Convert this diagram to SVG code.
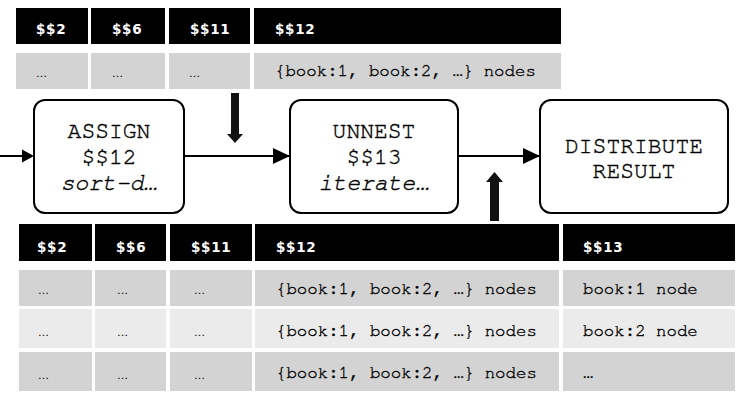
<svg xmlns="http://www.w3.org/2000/svg" width="747" height="403" viewBox="0 0 747 403">
<style>
.hd{fill:#000}
.c1{fill:#d3d3d3}
.c2{fill:#ebebeb}
.ht{font-family:"DejaVu Sans",Verdana,sans-serif;font-weight:bold;font-size:13.5px;fill:#fff;letter-spacing:0.7px}
.el{font-family:"DejaVu Sans",sans-serif;font-size:11px;fill:#000}
.mt{font-family:"Nimbus Mono PS","FreeMono","Courier New","Liberation Mono",monospace;font-size:17.4px;fill:#000;stroke:#000;stroke-width:0.35}
.box{fill:#fff;stroke:#000;stroke-width:2}
.nt{font-family:"Nimbus Mono PS","FreeMono","Courier New","Liberation Mono",monospace;font-size:23px;fill:#000;stroke:#000;stroke-width:0.4;text-anchor:middle}
.it{font-style:italic}
.ln{stroke:#000;stroke-width:2;fill:none}
.big{fill:#111}
</style>
<defs>
<marker id="ah" markerWidth="17" markerHeight="16" refX="17" refY="8" orient="auto" markerUnits="userSpaceOnUse">
<path d="M0,0 L17,8 L0,16 Z" fill="#000"/>
</marker>
</defs>

<g id="top-table">
<rect class="hd" x="16" y="8" width="72" height="36"/>
<rect class="hd" x="91" y="8" width="74" height="36"/>
<rect class="hd" x="169" y="8" width="81" height="36"/>
<rect class="hd" x="254" y="8" width="307" height="36"/>
<text class="ht" x="36" y="34">$$2</text>
<text class="ht" x="112" y="34">$$6</text>
<text class="ht" x="190" y="34">$$11</text>
<text class="ht" x="275" y="34">$$12</text>
<rect class="c1" x="16" y="53" width="72" height="36"/>
<rect class="c1" x="91" y="53" width="74" height="36"/>
<rect class="c1" x="169" y="53" width="81" height="36"/>
<rect class="c1" x="254" y="53" width="307" height="36"/>
<text class="el" x="36" y="77">…</text>
<text class="el" x="112" y="77">…</text>
<text class="el" x="189" y="77">…</text>
<text class="mt" x="275" y="76">{book:1, book:2, …} nodes</text>
</g>

<g id="bottom-table">
<rect class="hd" x="19" y="224" width="73" height="37"/>
<rect class="hd" x="95" y="224" width="71" height="37"/>
<rect class="hd" x="170" y="224" width="82" height="37"/>
<rect class="hd" x="255" y="224" width="304" height="37"/>
<rect class="hd" x="563" y="224" width="172" height="37"/>
<text class="ht" x="37" y="252">$$2</text>
<text class="ht" x="116" y="252">$$6</text>
<text class="ht" x="191" y="252">$$11</text>
<text class="ht" x="276" y="252">$$12</text>
<text class="ht" x="583" y="252">$$13</text>

<rect class="c1" x="19" y="270" width="73" height="36"/>
<rect class="c1" x="95" y="270" width="71" height="36"/>
<rect class="c1" x="170" y="270" width="82" height="36"/>
<rect class="c1" x="255" y="270" width="304" height="36"/>
<rect class="c1" x="563" y="270" width="172" height="36"/>
<text class="el" x="38" y="294">…</text>
<text class="el" x="117" y="294">…</text>
<text class="el" x="194" y="294">…</text>
<text class="mt" x="276" y="294">{book:1, book:2, …} nodes</text>
<text class="mt" x="583" y="294">book:1 node</text>

<rect class="c2" x="19" y="309" width="73" height="39"/>
<rect class="c2" x="95" y="309" width="71" height="39"/>
<rect class="c2" x="170" y="309" width="82" height="39"/>
<rect class="c2" x="255" y="309" width="304" height="39"/>
<rect class="c2" x="563" y="309" width="172" height="39"/>
<text class="el" x="38" y="336">…</text>
<text class="el" x="117" y="336">…</text>
<text class="el" x="194" y="336">…</text>
<text class="mt" x="276" y="336">{book:1, book:2, …} nodes</text>
<text class="mt" x="583" y="336">book:2 node</text>

<rect class="c1" x="19" y="352" width="73" height="39"/>
<rect class="c1" x="95" y="352" width="71" height="39"/>
<rect class="c1" x="170" y="352" width="82" height="39"/>
<rect class="c1" x="255" y="352" width="304" height="39"/>
<rect class="c1" x="563" y="352" width="172" height="39"/>
<text class="el" x="38" y="379">…</text>
<text class="el" x="117" y="379">…</text>
<text class="el" x="194" y="379">…</text>
<text class="mt" x="276" y="378">{book:1, book:2, …} nodes</text>
<text class="mt" x="583" y="378">…</text>
</g>

<g id="assign">
<rect class="box" x="34" y="100" width="150" height="113" rx="11"/>
<text class="nt" x="109" y="138">ASSIGN</text>
<text class="nt" x="109" y="164">$$12</text>
<text class="nt it" x="109" y="190">sort-d…</text>
</g>

<g id="unnest">
<rect class="box" x="290" y="100" width="168" height="113" rx="11"/>
<text class="nt" x="374" y="138">UNNEST</text>
<text class="nt" x="374" y="164">$$13</text>
<text class="nt it" x="374" y="190">iterate…</text>
</g>

<g id="distribute">
<rect class="box" x="540" y="100" width="188" height="113" rx="11"/>
<text class="nt" x="634" y="153">DISTRIBUTE</text>
<text class="nt" x="634" y="178">RESULT</text>
</g>

<g id="connectors">
<line class="ln" x1="0" y1="156" x2="23" y2="156"/>
<path d="M22,149.5 L34,156 L22,162.5 Z" fill="#000"/>
<line class="ln" x1="184" y1="156" x2="290" y2="156" marker-end="url(#ah)"/>
<line class="ln" x1="458" y1="156" x2="540" y2="156" marker-end="url(#ah)"/>
<path class="big" d="M231,93 L239,93 L239,134 L243,134 L235,143 L227,134 L231,134 Z"/>
<path class="big" d="M490,221 L499,221 L499,182 L503,182 L494.5,172 L486,182 L490,182 Z"/>
</g>
</svg>
